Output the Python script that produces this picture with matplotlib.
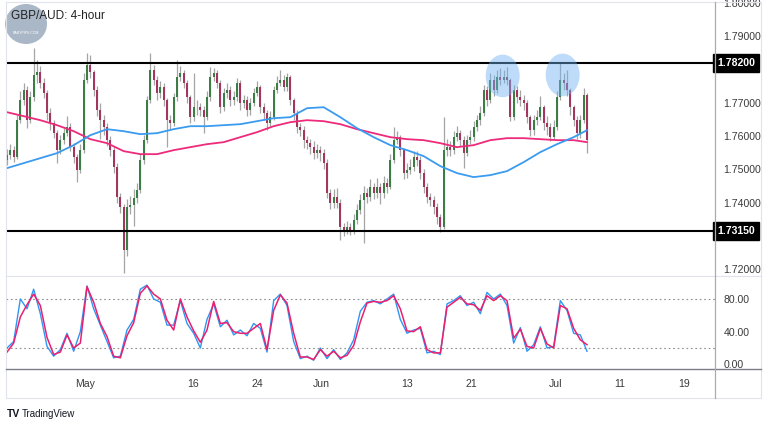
import matplotlib
matplotlib.use("Agg")
import matplotlib.pyplot as plt
import numpy as np
from matplotlib.lines import Line2D
from matplotlib.patches import Ellipse

plt.rcParams["font.family"] = ["Liberation Sans", "DejaVu Sans"]

# --- GBP/AUD candles (8-hour grid) ---
first_open = 1.7528
closes = [
    1.7543, 1.7558, 1.7537, 1.7648, 1.7708, 1.7738, 1.7648, 1.7717, 1.7784, 1.7793,
    1.7759, 1.7729, 1.7669, 1.7639, 1.7609, 1.7558, 1.7588, 1.7609, 1.7627, 1.7567,
    1.7537, 1.7498, 1.7558, 1.7769, 1.7814, 1.7793, 1.7738, 1.7678, 1.7648, 1.7627,
    1.7588, 1.7558, 1.7507, 1.7417, 1.7387, 1.7257, 1.7387, 1.7393, 1.7414, 1.7438,
    1.7528, 1.7588, 1.7708, 1.7799,
    1.7769, 1.7729, 1.7747, 1.7708, 1.7648, 1.7639, 1.7717, 1.7778, 1.7790, 1.7759,
    1.7717, 1.7657, 1.7687, 1.7687, 1.7678, 1.7657, 1.7717, 1.7778, 1.7790, 1.7759,
    1.7687, 1.7729, 1.7738, 1.7708, 1.7717, 1.7759, 1.7699, 1.7708, 1.7678, 1.7699,
    1.7729, 1.7747, 1.7687, 1.7669, 1.7639, 1.7657, 1.7738, 1.7759, 1.7769, 1.7747,
    1.7778, 1.7708, 1.7669, 1.7627, 1.7618,
    1.7588, 1.7579, 1.7567, 1.7549, 1.7558, 1.7549, 1.7519, 1.7429, 1.7399, 1.7417,
    1.7399, 1.7327, 1.7318, 1.7327, 1.7318, 1.7348, 1.7378, 1.7408, 1.7429, 1.7417,
    1.7447, 1.7429, 1.7447, 1.7429, 1.7459, 1.7447, 1.7528, 1.7588, 1.7597, 1.7558,
    1.7489, 1.7498, 1.7507, 1.7537, 1.7528, 1.7489, 1.7447, 1.7417, 1.7408, 1.7387,
    1.7357, 1.7327, 1.7558, 1.7567, 1.7558,
    1.7597, 1.7609, 1.7588, 1.7549, 1.7588, 1.7597, 1.7627, 1.7648, 1.7669, 1.7738,
    1.7708, 1.7769, 1.7738, 1.7778, 1.7769, 1.7778, 1.7769, 1.7657, 1.7738, 1.7717,
    1.7708, 1.7699, 1.7657, 1.7618, 1.7648, 1.7657, 1.7687, 1.7639, 1.7627, 1.7597,
    1.7627, 1.7717, 1.7769, 1.7759, 1.7738, 1.7687, 1.7648, 1.7609, 1.7648, 1.7723,
    1.7588,
]
highs = [
    1.7560, 1.7575, 1.7570, 1.7665, 1.7735, 1.7760, 1.7750, 1.7735, 1.7865, 1.7830,
    1.7810, 1.7775, 1.7740, 1.7685, 1.7650, 1.7620, 1.7605, 1.7625, 1.7660, 1.7640,
    1.7580, 1.7545, 1.7575, 1.7790, 1.7850, 1.7845, 1.7800, 1.7750, 1.7700, 1.7665,
    1.7640, 1.7600, 1.7570, 1.7520, 1.7430, 1.7395, 1.7410, 1.7420, 1.7440, 1.7460,
    1.7545, 1.7605, 1.7720, 1.7850,
    1.7815, 1.7780, 1.7765, 1.7760, 1.7715, 1.7665, 1.7730, 1.7829, 1.7810, 1.7800,
    1.7770, 1.7725, 1.7790, 1.7710, 1.7700, 1.7690, 1.7735, 1.7808, 1.7805, 1.7800,
    1.7770, 1.7745, 1.7760, 1.7750, 1.7735, 1.7775, 1.7770, 1.7725, 1.7720, 1.7715,
    1.7745, 1.7765, 1.7755, 1.7700, 1.7680, 1.7675, 1.7750, 1.7780, 1.7799, 1.7785,
    1.7790, 1.7785, 1.7715, 1.7680, 1.7640,
    1.7630, 1.7600, 1.7590, 1.7585, 1.7575, 1.7570, 1.7560, 1.7530, 1.7440, 1.7440,
    1.7445, 1.7410, 1.7340, 1.7345, 1.7340, 1.7365, 1.7395, 1.7425, 1.7450, 1.7445,
    1.7470, 1.7460, 1.7475, 1.7460, 1.7480, 1.7475, 1.7545, 1.7627, 1.7615, 1.7605,
    1.7565, 1.7520, 1.7530, 1.7555, 1.7555, 1.7540, 1.7500, 1.7460, 1.7430, 1.7420,
    1.7400, 1.7365, 1.7657, 1.7590, 1.7585,
    1.7615, 1.7630, 1.7620, 1.7600, 1.7605, 1.7620, 1.7645, 1.7665, 1.7690, 1.7755,
    1.7750, 1.7790, 1.7785, 1.7800, 1.7805, 1.7800, 1.7808, 1.7775, 1.7755, 1.7750,
    1.7740, 1.7725, 1.7710, 1.7665, 1.7665, 1.7680, 1.7720, 1.7695, 1.7660, 1.7640,
    1.7650, 1.7735, 1.7820, 1.7790, 1.7799, 1.7745, 1.7695, 1.7660, 1.7665, 1.7745,
    1.7730,
]
lows = [
    1.7512, 1.7530, 1.7522, 1.7530, 1.7640, 1.7695, 1.7625, 1.7640, 1.7705, 1.7760,
    1.7745, 1.7715, 1.7650, 1.7620, 1.7595, 1.7519, 1.7545, 1.7575, 1.7600, 1.7555,
    1.7520, 1.7462, 1.7490, 1.7550, 1.7760, 1.7775, 1.7720, 1.7660, 1.7590, 1.7605,
    1.7570, 1.7540, 1.7490, 1.7400, 1.7370, 1.7188, 1.7240, 1.7365, 1.7330, 1.7400,
    1.7430, 1.7515, 1.7580, 1.7700,
    1.7755, 1.7710, 1.7715, 1.7690, 1.7567, 1.7620, 1.7630, 1.7705, 1.7765, 1.7745,
    1.7700, 1.7640, 1.7645, 1.7665, 1.7660, 1.7609, 1.7650, 1.7705, 1.7765, 1.7745,
    1.7670, 1.7675, 1.7715, 1.7690, 1.7695, 1.7705, 1.7680, 1.7685, 1.7660, 1.7665,
    1.7690, 1.7720, 1.7670, 1.7650, 1.7618, 1.7630, 1.7650, 1.7730, 1.7750, 1.7735,
    1.7735, 1.7695, 1.7650, 1.7610, 1.7600,
    1.7565, 1.7560, 1.7545, 1.7530, 1.7535, 1.7525, 1.7500, 1.7415, 1.7380, 1.7385,
    1.7385, 1.7288, 1.7300, 1.7305, 1.7302, 1.7305, 1.7335, 1.7365, 1.7279, 1.7400,
    1.7405, 1.7410, 1.7415, 1.7395, 1.7415, 1.7430, 1.7440, 1.7520, 1.7575, 1.7540,
    1.7470, 1.7475, 1.7485, 1.7495, 1.7510, 1.7470, 1.7430, 1.7400, 1.7390, 1.7365,
    1.7335, 1.7312, 1.7320, 1.7540, 1.7540,
    1.7545, 1.7585, 1.7570, 1.7504, 1.7540, 1.7575, 1.7585, 1.7615, 1.7635, 1.7660,
    1.7690, 1.7700, 1.7720, 1.7730, 1.7755, 1.7760, 1.7755, 1.7645, 1.7650, 1.7700,
    1.7690, 1.7680, 1.7640, 1.7600, 1.7605, 1.7635, 1.7650, 1.7620, 1.7605, 1.7585,
    1.7590, 1.7620, 1.7710, 1.7740, 1.7720, 1.7665, 1.7630, 1.7590, 1.7595, 1.7640,
    1.7549,
]

# moving averages, read every 5 candles
ma_idx = list(range(0, 171, 5)) + [174]
ma_fast = [
    1.7504, 1.7519, 1.7534, 1.7549, 1.7573, 1.7603, 1.7621, 1.7615, 1.7606, 1.7609,
    1.7621, 1.7630, 1.7630, 1.7633, 1.7636, 1.7645, 1.7654, 1.7657, 1.7684, 1.7687,
    1.7657, 1.7624, 1.7597, 1.7573, 1.7558, 1.7540, 1.7510, 1.7489, 1.7477, 1.7483,
    1.7495, 1.7522, 1.7552, 1.7576, 1.7597, 1.7618,
]
ma_slow = [
    1.7672, 1.7660, 1.7648, 1.7633, 1.7615, 1.7591, 1.7579, 1.7555, 1.7546, 1.7546,
    1.7558, 1.7567, 1.7576, 1.7582, 1.7597, 1.7612, 1.7630, 1.7642, 1.7648, 1.7645,
    1.7636, 1.7621, 1.7609, 1.7597, 1.7591, 1.7588, 1.7579, 1.7567, 1.7573, 1.7588,
    1.7594, 1.7594, 1.7591, 1.7588, 1.7588, 1.7582,
]

# stochastic, read every 2 candles
stoch_idx = list(range(0, 175, 2))
stoch_k = [
    20, 28, 80, 68, 92, 62, 22, 10, 18, 38, 16, 40, 96, 68, 48, 28, 8, 10, 42, 55,
    92, 97, 80, 76, 48, 48, 78, 50, 38, 20, 55, 74, 46, 54, 36, 42, 35, 50, 44, 15,
    78, 86, 72, 28, 7, 10, 5, 20, 7, 18, 6, 14, 30, 65, 76, 78, 74, 80, 86, 55,
    38, 42, 44, 14, 16, 12, 74, 78, 84, 72, 76, 62, 88, 80, 86, 72, 26, 45, 16, 24,
    46, 20, 22, 78, 66, 38, 36, 16,
]
stoch_d = [
    15, 26, 58, 73, 86, 72, 33, 12, 15, 36, 20, 26, 95, 76, 50, 34, 10, 8, 35, 51,
    87, 96, 86, 80, 54, 42, 80, 58, 41, 27, 42, 77, 50, 51, 40, 38, 38, 44, 50, 18,
    66, 85, 75, 38, 9, 9, 6, 18, 10, 16, 8, 11, 23, 52, 75, 77, 76, 78, 84, 68,
    41, 40, 46, 18, 14, 14, 70, 76, 82, 74, 73, 66, 84, 78, 84, 78, 32, 43, 22, 20,
    44, 25, 20, 72, 68, 44, 30, 24,
]

levels = [1.7820, 1.7315]
tops = [(148.7, 1.7781), (166.7, 1.7784)]

time_ticks = [23.4, 55.8, 75.0, 94.2, 120.0, 139.2, 164.7, 183.9, 203.1]
time_labels = ["May", "16", "24", "Jun", "13", "21", "Jul", "11", "19"]
# 1.73 and 1.78 sit under the level boxes, so they are left out
price_ticks = [1.72, 1.74, 1.75, 1.76, 1.77, 1.79, 1.80]
stoch_ticks = [0, 40, 80]

W, H = 768, 432
TXT = "#3a3a3a"
GRID = "#e0e3eb"
FS = 7.6


def fx(x):
    return x / W


def fy(y):
    return 1 - y / H


fig = plt.figure(figsize=(W / 100, H / 100), dpi=100)
ax = fig.add_axes([fx(6), fy(275), fx(709), 273 / H])
ax2 = fig.add_axes([fx(6), fy(369), fx(709), 92 / H], sharex=ax)

closes = np.array(closes)
opens = np.concatenate([[first_open], closes[:-1]])
x = np.arange(len(closes))
up = closes >= opens
body_col = np.where(up, "#3b7d45", "#a3365e")

ax.vlines(x, lows, highs, color="#a5a5a5", lw=0.9, zorder=2)
ax.bar(x, np.abs(closes - opens), bottom=np.minimum(opens, closes),
       width=0.6, color=body_col, lw=0, zorder=3)

ax.plot(ma_idx, ma_slow, color="#ee2a7b", lw=1.3, zorder=4, solid_capstyle="round")
ax.plot(ma_idx, ma_fast, color="#3a9bf0", lw=1.3, zorder=4, solid_capstyle="round")

for lv in levels:
    ax.axhline(lv, color="black", lw=1.5, zorder=5)
    ax.text(1.003, lv, f"{lv:.5f}", transform=ax.get_yaxis_transform(),
            ha="left", va="center", fontsize=FS, color="white", fontweight="bold",
            clip_on=False, zorder=10,
            bbox=dict(boxstyle="square,pad=0.35", fc="black", ec="black"))

for cx, cy in tops:
    ax.add_patch(Ellipse((cx, cy), 10.2, 0.0128, fc="#6fb3f2", ec="none",
                         alpha=0.45, zorder=6))

ax.set_xlim(-0.3, 212.4)
ax.set_ylim(1.7183, 1.8003)
ax.yaxis.tick_right()
ax.set_yticks(price_ticks)
ax.set_yticklabels([f"{t:.5f}" for t in price_ticks])
ax.tick_params(axis="y", length=0, pad=6, labelsize=FS, labelcolor=TXT)
ax.tick_params(axis="x", length=0, labelbottom=False)
for s in ax.spines.values():
    s.set_visible(False)

ax2.plot(stoch_idx, stoch_k, color="#2f96f3", lw=1.0, zorder=3)
ax2.plot(stoch_idx, stoch_d, color="#ec1f6e", lw=1.1, zorder=4)
for lv in (80, 20):
    ax2.axhline(lv, color="#8f8f8f", lw=0.8, ls=(0, (1.5, 2.5)), zorder=1)
ax2.set_ylim(-5.7, 106.9)
ax2.yaxis.tick_right()
ax2.set_yticks(stoch_ticks)
ax2.set_yticklabels([f"{t:.2f}" for t in stoch_ticks])
ax2.tick_params(axis="y", length=0, pad=6, labelsize=FS, labelcolor=TXT)
ax2.set_xticks(time_ticks)
ax2.set_xticklabels(time_labels)
ax2.tick_params(axis="x", length=0, pad=7, labelsize=FS, labelcolor=TXT)
for s in ax2.spines.values():
    s.set_visible(False)

# pane frame and separators
frame = [
    ((6, 761), (2, 2), GRID, 0.8),
    ((6, 6), (2, 398), GRID, 0.8),
    ((761, 761), (2, 398), GRID, 0.8),
    ((6, 761), (276, 276), GRID, 0.8),
    ((6, 761), (398, 398), GRID, 0.8),
    ((6, 761), (369, 369), "#7b7e88", 1.0),
    ((715, 715), (2, 398), "#a8abb4", 0.9),
]
for xs, ys, c, w in frame:
    fig.add_artist(Line2D([fx(v) for v in xs], [fy(v) for v in ys],
                          color=c, lw=w, transform=fig.transFigure))

# logo and title
fig.add_artist(Ellipse((fx(26), fy(24)), fx(42), 40 / H, fc="#a9b7c6",
                       ec="none", transform=fig.transFigure, zorder=1))
fig.text(fx(26), fy(33), "BABYPIPS.COM", fontsize=2.5, color="white",
         ha="center", va="center")
fig.text(fx(11), fy(16), "GBP/AUD: 4-hour", fontsize=8.5, color="#222222",
         ha="left", va="center", zorder=5)

fig.text(fx(7), fy(414), "TV", fontsize=7.5, fontweight="bold", color="#131722",
         ha="left", va="center")
fig.text(fx(22), fy(414), "TradingView", fontsize=7, color="#131722",
         ha="left", va="center")

fig.savefig("out.png", dpi=100, facecolor="white")
